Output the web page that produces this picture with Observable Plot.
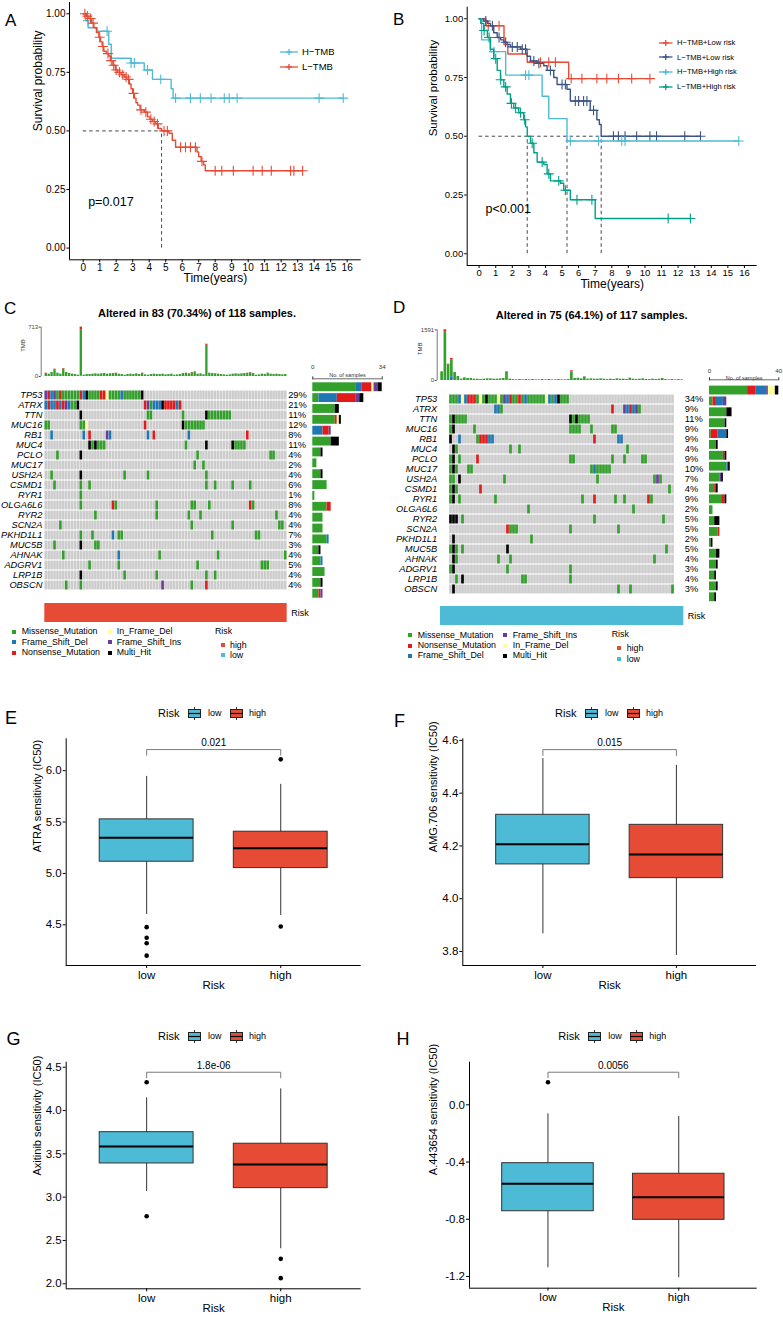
<!DOCTYPE html>
<html>
<head>
<meta charset="utf-8">
<script src="https://cdn.jsdelivr.net/npm/d3@7"></script>
<script src="https://cdn.jsdelivr.net/npm/@observablehq/plot@0.6"></script>
<style>
  html,body{margin:0;padding:0;background:#fff;}
  #fig{position:relative;width:783px;height:1317px;overflow:hidden;background:#fff;font-family:"Liberation Sans",Arial,Helvetica,sans-serif;color:#000;}
  #fig svg{overflow:visible;}
</style>
</head>
<body>
<div id="fig"></div>
<script>
// ======================= DATA =======================
const kmTicks = [0,1,2,3,4,5,6,7,8,9,10,11,12,13,14,15,16];
const survTicks = [0, 0.25, 0.5, 0.75, 1];

// ---- Panel A (KM by TMB) ----
const A_names = ["H−TMB", "L−TMB"];
const A_colors = ["#4DBBD5", "#E64B35"];
const A_H_t = [0, 0.15, 0.3, 0.85, 1.55, 1.7, 2.9, 3.7, 4.2, 5.33, 5.45, 15.76];
const A_H_s = [1.0, 0.97, 0.94, 0.925, 0.87, 0.81, 0.79, 0.76, 0.72, 0.68, 0.64, 0.64];
const A_H_cens = [0.28, 1.45, 2.9, 3.1, 3.9, 4.7, 5.6, 6.5, 7.1, 7.75, 8.55, 8.85, 9.33, 14.3, 15.76];
const A_L_t = [0, 0.2, 0.35, 0.5, 0.65, 0.8, 0.95, 1.05, 1.15, 1.25, 1.4, 1.55, 1.65, 1.8, 1.95, 2.1, 2.3, 2.5, 2.65, 2.8, 2.9, 3.0, 3.1, 3.2, 3.3, 3.45, 3.7, 3.9, 4.05, 4.2, 4.4, 4.55, 4.75, 5.2, 5.4, 5.6, 6.9, 7.0, 7.15, 7.3, 7.4, 13.3];
const A_L_s = [1.0, 0.99, 0.98, 0.96, 0.94, 0.92, 0.90, 0.88, 0.86, 0.84, 0.83, 0.82, 0.80, 0.78, 0.76, 0.75, 0.74, 0.73, 0.72, 0.70, 0.68, 0.66, 0.64, 0.62, 0.61, 0.59, 0.58, 0.56, 0.55, 0.54, 0.53, 0.51, 0.50, 0.49, 0.46, 0.43, 0.41, 0.39, 0.37, 0.355, 0.33, 0.33];
const A_L_cens = [0.1, 0.25, 0.45, 0.6, 1.0, 1.2, 1.5, 1.7, 1.85, 2.0, 2.2, 2.4, 2.6, 2.75, 3.05, 3.5, 3.8, 4.1, 4.3, 4.5, 4.9, 5.1, 5.9, 6.2, 6.5, 6.8, 7.2, 8.0, 8.4, 9.1, 10.3, 10.85, 11.4, 12.57, 12.77, 13.3];
const A_medians = [4.75];
const A_p = "p=0.017";
const A_pPos = [0.3, 0.195];

// ---- Panel B (KM by TMB + risk) ----
const B_names = ["H−TMB+Low risk", "L−TMB+Low risk", "H−TMB+High risk", "L−TMB+High risk"];
const B_colors = ["#E64B35", "#3C5488", "#4DBBD5", "#00A087"];
const B1_t = [0, 0.4, 1.5, 1.73, 2.9, 5.4, 10.3];
const B1_s = [1, 0.97, 0.89, 0.85, 0.815, 0.745, 0.745];
const B1_cens = [0.55, 1.2, 3.7, 4.2, 4.6, 5.55, 6.2, 7.1, 7.7, 8.4, 9.2, 10.3];
const B2_t = [0, 0.28, 0.5, 0.68, 0.88, 1.09, 1.3, 1.49, 1.69, 1.89, 2.49, 2.89, 3.1, 3.5, 3.9, 4.1, 4.5, 4.7, 5.3, 5.5, 6.7, 7.1, 7.25, 7.36, 13.35];
const B2_s = [1, 0.99, 0.98, 0.97, 0.94, 0.92, 0.91, 0.90, 0.89, 0.88, 0.87, 0.84, 0.82, 0.81, 0.80, 0.78, 0.75, 0.72, 0.70, 0.65, 0.61, 0.57, 0.55, 0.50, 0.50];
const B2_cens = [0.4, 0.8, 1.2, 1.6, 2.0, 2.3, 2.6, 2.8, 3.3, 3.6, 4.3, 5.0, 5.2, 5.8, 6.0, 6.3, 6.5, 6.9, 8.1, 8.4, 8.8, 9.5, 10.3, 10.7, 12.4, 13.35];
const B3_t = [0, 0.15, 0.68, 1.6, 3.8, 4.2, 5.3, 15.66];
const B3_s = [1, 0.91, 0.86, 0.76, 0.67, 0.575, 0.48, 0.48];
const B3_cens = [0.9, 2.8, 3.0, 5.5, 7.2, 8.6, 8.8, 15.66];
const B4_t = [0, 0.1, 0.28, 0.5, 0.68, 0.88, 1.09, 1.29, 1.49, 1.69, 1.89, 2.09, 2.39, 2.69, 2.8, 2.9, 3.1, 3.3, 3.5, 3.9, 4.1, 4.3, 4.9, 5.1, 5.5, 7.0, 12.74];
const B4_s = [1, 0.98, 0.95, 0.92, 0.87, 0.83, 0.78, 0.74, 0.71, 0.68, 0.64, 0.62, 0.60, 0.57, 0.54, 0.50, 0.47, 0.43, 0.39, 0.38, 0.34, 0.31, 0.30, 0.27, 0.23, 0.15, 0.15];
const B4_cens = [0.3, 0.6, 1.0, 1.3, 1.6, 1.95, 2.2, 2.5, 2.75, 3.2, 3.8, 4.2, 4.8, 5.2, 5.9, 6.8, 11.4, 12.74];
const B_medians = [2.9, 5.3, 7.36];
const B_p = "p<0.001";
const B_pPos = [0.38, 0.19];

// ---- Oncoplots (C: high risk, D: low risk) ----
const genes = ["TP53","ATRX","TTN","MUC16","RB1","MUC4","PCLO","MUC17","USH2A","CSMD1","RYR1","OLGA6L6","RYR2","SCN2A","PKHD1L1","MUC5B","AHNAK","ADGRV1","LRP1B","OBSCN"];
const mutTypes = ["M","F","N","I","S","H"];
const mutNames = ["Missense_Mutation","Frame_Shift_Del","Nonsense_Mutation","In_Frame_Del","Frame_Shift_Ins","Multi_Hit"];
const mutColors = ["#33A02C","#1F78B4","#E31A1C","#FFFF99","#6A3D9A","#000000"];
const riskLevels = ["high","low"];
const riskLevelColors = ["#E64B35","#4DBBD5"];

const C_title = "Altered in 83 (70.34%) of 118 samples.";
const C_n = 83;
const C_pct = ["29%","21%","11%","12%","8%","11%","4%","2%","4%","6%","1%","8%","4%","4%","7%","3%","4%","5%","4%","4%"];
const C_rows = [
  "0:S,1:N,2:F,3:S,4:M,5:N,6-11:M,12:N,13:F,14:H,15-18:M,19-20:N,21:I,22-25:M,26:F,27-32:M,33:H",
  "0:F,1:N,2:F,3:F,4:N,5:F,6:N,7:S,8:F,9-10:M,11:H,34:N,35:S,36:M,37-39:F,40:H,41-44:N,45:F,46:N",
  "12:H,35-36:M,47:M,55:H,56-63:M",
  "0-1:M,12-13:M,14:I,34:N,47:H,48-54:M",
  "2:F,13:F,15:N,21:S,22:F,35:F,37:N,49:F,69:N",
  "15:H,16:M,17:H,18-20:M,48:M,55:H,64:H,65-68:M",
  "4:M,12:H,52:M,77-78:M",
  "51:M,54:M",
  "2:M,12:H,27:M,35:M,55:M",
  "3:M,12:M,15:M,55:M,58:M,64:M,70:M",
  "12:M",
  "12:M,23:N,24:M,38:M,50-51:M,56:M,70:N,71:M",
  "17:M,38:M,49:M,53:M,79:M",
  "5:M,50:M,64:M,80-81:M",
  "12:M,16:M,23:F,25-26:M,57:M,72-73:M",
  "3:M,12:H,17-18:M",
  "6:M,25:F,39:M,59:M,82:M",
  "15:M,25:M,52:M,74-76:M",
  "12:H,27:M,38:M,55:M,58:M",
  "7:M,12:M,40:S,50:M,55:N"
];
const C_tmb = [48,34,58,106,48,34,116,58,43,34, 29,19,713,19,29,29,34,39,34,39, 43,34,39,43,48,34,29,19,29,34, 29,39,29,48,24,19,29,34,29,29, 34,24,29,34,19,24,29,43,48,39, 58,67,34,39,24,467,48,43,39,34, 29,24,19,24,34,39,34,39,43,48, 58,43,19,24,34,29,48,34,29,34, 29,24,29];
const C_tmbRed = [[12,40],[55,15],[0,5],[3,8],[6,8],[24,5],[33,5],[50,6],[51,8],[70,8]];
const C_tmbBlue = [[12,8]];
const C_tmbMax = 713;
const C_barMax = 34;
const C_risk = "0-82:high";
const C_legendOrder = ["M","F","N","I","S","H"];

const D_title = "Altered in 75 (64.1%) of 117 samples.";
const D_n = 75;
const D_pct = ["34%","9%","11%","9%","9%","4%","9%","10%","7%","4%","9%","2%","5%","5%","2%","5%","4%","3%","4%","3%"];
const D_rows = [
  "0-2:M,3:F,4:I,5:F,6-8:N,9:M,10:I,11:M,12:H,13-15:M,16:I,17:M,18:S,19:F,20:N,21-22:M,23:N,24:M,25:F,26-31:M,32:I,33:F,34:M,35:F,36:H,37-39:M",
  "15-16:F,17:M,54:N,58:S,59:F,60:N,61:F,62:S,63:M",
  "0:M,1:H,2-5:M,40:H,41:M,42:H,43-46:M",
  "0:M,1:H,8:M,40-43:M,47:M,54-55:M",
  "0:H,3:F,9:M,10-12:N,13-14:F,48:N,56-57:F",
  "1:H,2:M,20:M,23:M,59:M",
  "0:M,1:H,3:M,9:N,40-41:M,54:M,58:M,64-65:M",
  "0:M,1:H,2:M,6-7:M,47:M,48:F,49-53:M",
  "0-1:M,3:H,18:M,49:M,68:M,69:S,70:M",
  "0:M,1:H,2:M,10:N,73:M",
  "0:M,1:H,3:M,15:M,44:M,48:N,55:M,58:M,66:N,67:M",
  "26:M,61:M",
  "0-2:H,4:M,48:M,71:M",
  "19:N,20-22:M,40:M,56:M",
  "1:H,27:M",
  "0:M,1:H,2:M,4:M,19:H,72:M",
  "1:H,2:M,16:M,20:M,68:M",
  "0:M,1:H,19:M,40:M",
  "2:M,4:H,24-25:M,40:M",
  "1:H,56:M,60:M,74:M"
];
const D_tmb = [272,1591,513,691,251,126,42,84,63,63, 42,42,31,42,52,52,42,42,52,63, 272,42,31,21,31,21,31,21,31,21, 21,31,21,31,21,21,31,21,21,31, 304,63,73,52,115,42,52,42,42,52, 42,31,42,31,52,42,42,31,73,42, 31,42,52,31,31,42,31,42,63,31, 21,31,21,31,21];
const D_tmbRed = [[0,15],[1,70],[2,20],[3,40],[20,20],[40,35]];
const D_tmbBlue = [[3,120],[20,25]];
const D_tmbMax = 1591;
const D_barMax = 40;
const D_risk = "0-74:low";
const D_legendOrder = ["M","N","F","S","I","H"];

// ---- Boxplots (E-H) ----
const riskGroups = ["low", "high"];
const riskColors = ["#4DBBD5", "#E64B35"];
// [lower whisker, Q1, median, Q3, upper whisker]
const E_low = [4.60, 5.114, 5.348, 5.526, 5.944];
const E_high = [4.59, 5.052, 5.246, 5.406, 5.867];
const E_outLow = [4.477, 4.374, 4.321, 4.20];
const E_outHigh = [6.11, 4.484];
const E_ticks = [4.5, 5.0, 5.5, 6.0];
const F_low = [3.867, 4.130, 4.206, 4.318, 4.531];
const F_high = [3.785, 4.078, 4.168, 4.280, 4.505];
const F_outLow = [];
const F_outHigh = [];
const F_ticks = [3.8, 4.0, 4.2, 4.4, 4.6];
const G_low = [3.065, 3.389, 3.585, 3.75, 4.147];
const G_high = [2.404, 3.104, 3.378, 3.617, 4.25];
const G_outLow = [4.327, 2.78];
const G_outHigh = [2.288, 2.065];
const G_ticks = [2.0, 2.5, 3.0, 3.5, 4.0, 4.5];
const H_low = [-1.139, -0.744, -0.552, -0.408, -0.063];
const H_high = [-1.209, -0.804, -0.646, -0.482, -0.082];
const H_outLow = [0.158];
const H_outHigh = [];
const H_ticks = [-1.2, -0.8, -0.4, 0.0];
const pvals = ["0.021", "0.015", "1.8e-06", "0.0056"];
const ylabels = ["ATRA sensitivity (IC50)", "AMG.706 sensitivity (IC50)", "Axitinib sensitivity (IC50)", "A.443654 sensitivity (IC50)"];

// ======================= HELPERS =======================
const FONT = '"Liberation Sans", Arial, Helvetica, sans-serif';
const fig = document.getElementById("fig");
function place(node, left, top) {
  node.style.position = "absolute"; node.style.left = left + "px"; node.style.top = top + "px";
  fig.appendChild(node); return node;
}
function label(text, left, cy, size, o = {}) {
  const d = document.createElement("div");
  d.textContent = text;
  Object.assign(d.style, {fontSize: size + "px", lineHeight: size + "px", whiteSpace: "nowrap", fontWeight: o.bold ? "bold" : "normal"});
  if (o.anchor === "middle") { d.style.width = "400px"; d.style.textAlign = "center"; left -= 200; }
  return place(d, left, cy - size / 2);
}
function html(str, left, top) { const d = document.createElement("div"); d.innerHTML = str; d.style.lineHeight = "0"; return place(d, left, top); }
const baseStyle = (size, color = "#000") => ({fontFamily: FONT, fontSize: size + "px", color, background: "transparent", overflow: "visible"});
function stepAt(ts, ss, x) { let v = ss[0]; for (let i = 0; i < ts.length; i++) { if (ts[i] <= x) v = ss[i]; else break; } return v; }
function parseSpans(str) {
  if (!str) return [];
  return str.split(",").map(part => {
    const [rng, t] = part.split(":");
    const [a, b] = rng.split("-").map(Number);
    return {a, b: b === undefined ? a : b, t};
  });
}
function parseRuns(str) {
  const out = [];
  parseSpans(str).forEach(({a, b, t}) => { for (let i = a; i <= b; i++) out.push({i, t}); });
  return out;
}
const mutColor = Object.fromEntries(mutTypes.map((t, k) => [t, mutColors[k]]));
const mutName = Object.fromEntries(mutTypes.map((t, k) => [t, mutNames[k]]));
const riskColor = Object.fromEntries(riskLevels.map((t, k) => [t, riskLevelColors[k]]));

// ======================= KM PANELS =======================
function kmPanel(c) {
  const marks = [
    Plot.ruleY([0.5], {x1: () => 0, x2: () => d3.max(c.medians), stroke: "#333", strokeDasharray: "3.5,3", strokeWidth: 0.9}),
    Plot.ruleX(c.medians, {y1: () => 0, y2: () => 0.5, stroke: "#333", strokeDasharray: "3.5,3", strokeWidth: 0.9}),
  ];
  c.curves.forEach(cv => {
    const pts = cv.t.map((t, i) => ({t, s: cv.s[i]}));
    marks.push(Plot.line(pts, {x: "t", y: "s", curve: "step-after", stroke: cv.color, strokeWidth: 1.4}));
    marks.push(Plot.dot(cv.cens.map(x => ({t: x, s: stepAt(cv.t, cv.s, x)})), {x: "t", y: "s", symbol: "plus", r: 3.3, stroke: cv.color, strokeWidth: 1.1}));
  });
  marks.push(
    Plot.ruleX([c.xdom[0]], {stroke: "#000", strokeWidth: 1}),
    Plot.ruleY([c.ydom[0]], {stroke: "#000", strokeWidth: 1}),
    Plot.text([c.p], {x: () => c.pPos[0], y: () => c.pPos[1], text: d => d, textAnchor: "start", fontSize: 12.5}),
    Plot.text(["Time(years)"], {frameAnchor: "bottom", dy: c.xLabDy, text: d => d, fontSize: 12}),
    Plot.text(["Survival probability"], {frameAnchor: "left", dx: c.yLabDx, rotate: -90, text: d => d, fontSize: c.yLabSize})
  );
  const p = Plot.plot({
    width: c.width, height: c.height,
    marginLeft: c.mL, marginRight: c.mR, marginTop: c.mT, marginBottom: c.mB,
    x: {domain: c.xdom, ticks: kmTicks, tickFormat: d => String(d), label: null, tickSize: 3, tickPadding: 1},
    y: {domain: c.ydom, ticks: survTicks, tickFormat: d3.format(".2f"), label: null, tickSize: 2.5, tickPadding: 1.5},
    style: baseStyle(c.tickSize),
    marks
  });
  place(p, c.left, c.top);
}
function kmKey(color, w) {
  return `<svg width="${w}" height="8" style="display:block;overflow:visible"><line x1="0" y1="4" x2="${w}" y2="4" stroke="${color}" stroke-width="1.3"/><line x1="${w/2-3}" y1="4" x2="${w/2+3}" y2="4" stroke="${color}" stroke-width="1.3"/><line x1="${w/2}" y1="1" x2="${w/2}" y2="7" stroke="${color}" stroke-width="1.3"/></svg>`;
}

kmPanel({
  left: 0, top: 0, width: 390, height: 295, mL: 69, mR: 29.3, mT: 2, mB: 35.7,
  xdom: [-0.83, 16.85], ydom: [-0.05, 1.048], medians: A_medians, p: A_p, pPos: A_pPos,
  xLabDy: 22.5, yLabDx: -31, yLabSize: 12, tickSize: 10,
  curves: [
    {t: A_H_t, s: A_H_s, cens: A_H_cens, color: A_colors[0]},
    {t: A_L_t, s: A_L_s, cens: A_L_cens, color: A_colors[1]}
  ]
});
A_names.forEach((nm, k) => {
  const cy = [51.7, 66.7][k];
  html(kmKey(A_colors[k], 18), 280, cy - 4);
  label(nm, 302, cy, 9.5);
});

kmPanel({
  left: 390, top: 0, width: 393, height: 298, mL: 76.7, mR: 26.3, mT: 6.7, mB: 33,
  xdom: [-0.72, 16.77], ydom: [-0.05, 1.049], medians: B_medians, p: B_p, pPos: B_pPos,
  xLabDy: 22, yLabDx: -33.4, yLabSize: 11.5, tickSize: 9.5,
  curves: [
    {t: B1_t, s: B1_s, cens: B1_cens, color: B_colors[0]},
    {t: B2_t, s: B2_s, cens: B2_cens, color: B_colors[1]},
    {t: B3_t, s: B3_s, cens: B3_cens, color: B_colors[2]},
    {t: B4_t, s: B4_s, cens: B4_cens, color: B_colors[3]}
  ]
});
B_names.forEach((nm, k) => {
  const cy = [42.7, 57.3, 71.7, 86.7][k];
  html(kmKey(B_colors[k], 13.5), 659.3, cy - 4);
  label(nm, 677, cy, 7.6);
});

// ======================= ONCOPLOTS =======================
function oncoPanel(o) {
  const n = o.n;
  const cols = d3.range(n);
  const bg = [];
  genes.forEach(g => cols.forEach(i => bg.push({g, i})));
  const muts = [];
  o.rows.forEach((str, r) => parseRuns(str).forEach(({i, t}) => muts.push({g: genes[r], i, fill: mutColor[t]})));

  // mutation matrix
  const mat = Plot.plot({
    width: o.matW, height: o.matH, marginLeft: o.matML, marginRight: o.matMR, marginTop: 0, marginBottom: 0,
    x: {type: "band", domain: cols, padding: 0, axis: null},
    y: {type: "band", domain: genes, padding: 0, axis: null},
    color: {type: "identity"},
    style: baseStyle(9),
    marks: [
      Plot.cell(bg, {x: "i", y: "g", fill: "#CCCCCC", insetTop: 0.55, insetBottom: 0.55, insetLeft: 0.18, insetRight: 0.18}),
      Plot.cell(muts, {x: "i", y: "g", fill: "fill", insetTop: 0.55, insetBottom: 0.55, insetLeft: 0.18, insetRight: 0.18}),
      Plot.text(genes, {y: d => d, text: d => d, frameAnchor: "left", textAnchor: "end", dx: -o.geneGap, fontStyle: "italic", fontSize: 9.3}),
      Plot.text(genes, {y: d => d, text: (d, i) => o.pct[i], frameAnchor: "right", textAnchor: "start", dx: 1, fontSize: 9.3})
    ]
  });
  place(mat, o.matLeft, o.matTop);

  // TMB stacked bars
  const rects = [];
  cols.forEach(i => {
    const blue = (o.tmbBlue.find(p => p[0] === i) || [0, 0])[1];
    const red = (o.tmbRed.find(p => p[0] === i) || [0, 0])[1];
    const tot = o.tmb[i];
    const green = Math.max(0, tot - blue - red);
    let acc = 0;
    [[blue, mutColor.F], [green, mutColor.M], [red, mutColor.N]].forEach(([v, col]) => {
      if (v > 0) { rects.push({i, y1: acc, y2: acc + v, fill: col}); acc += v; }
    });
  });
  const tmbP = Plot.plot({
    width: o.tmbW, height: o.tmbH, marginLeft: o.tmbML, marginRight: o.tmbMR, marginTop: o.tmbMT, marginBottom: 2,
    x: {domain: [o.tmbX0, n], axis: null},
    y: {domain: [0, o.tmbMax], ticks: [0, o.tmbMax], tickFormat: d => String(d), tickSize: 2, tickPadding: 1, label: null},
    color: {type: "identity"},
    style: baseStyle(6, "#444"),
    marks: [
      Plot.rect(rects, {x1: "i", x2: d => d.i + 1, y1: "y1", y2: "y2", fill: "fill", insetLeft: 0.3, insetRight: 0.3}),
      Plot.ruleX([o.tmbX0], {y1: () => 0, y2: () => o.tmbMax, stroke: "#555", strokeWidth: 0.8}),
      Plot.text(["TMB"], {frameAnchor: "left", dx: o.tmbLabDx, rotate: -90, text: d => d, fontSize: 6, fill: "#333"})
    ]
  });
  place(tmbP, o.tmbLeft, o.tmbTop);

  // right side bars (No. of samples)
  const bars = [];
  o.rows.forEach((str, r) => {
    const cnt = {};
    parseRuns(str).forEach(({t}) => cnt[t] = (cnt[t] || 0) + 1);
    let acc = 0;
    o.order.forEach(t => { if (cnt[t]) { bars.push({r, x1: acc, x2: acc + cnt[t], fill: mutColor[t]}); acc += cnt[t]; } });
  });
  const barP = Plot.plot({
    width: o.barW, height: o.barH, marginLeft: o.barML, marginRight: o.barMR, marginTop: o.barMT, marginBottom: 0,
    x: {domain: [0, o.barMax], axis: "top", ticks: [0, o.barMax], tickFormat: d => String(d), tickSize: 3, tickPadding: o.barTickPad, label: null},
    y: {domain: [genes.length, -o.barInsetRows], axis: null},
    color: {type: "identity"},
    style: baseStyle(6.2, "#333"),
    marks: [
      Plot.rect(bars, {x1: "x1", x2: "x2", y1: "r", y2: d => d.r + 1, fill: "fill", insetTop: 1, insetBottom: 1}),
      Plot.ruleY([-o.barInsetRows], {x1: () => 0, x2: () => o.barMax, stroke: "#444", strokeWidth: 0.8}),
      Plot.text(["No. of samples"], {frameAnchor: "top", dy: o.nosDy, text: d => d, fontSize: 5.5, fill: "#333"})
    ]
  });
  place(barP, o.barLeft, o.barTop);

  // risk annotation (one rect per run of samples with the same risk)
  const riskSpans = parseSpans(o.risk).map(({a, b, t}) => ({a, b: b + 1, fill: riskColor[t]}));
  const riskP = Plot.plot({
    width: o.matW, height: 19, marginLeft: o.matML, marginRight: o.matMR, marginTop: 0, marginBottom: 0,
    x: {domain: [0, n], axis: null},
    y: {domain: [0, 1], axis: null},
    color: {type: "identity"},
    style: baseStyle(9),
    marks: [
      Plot.rect(riskSpans, {x1: "a", x2: "b", y1: () => 0, y2: () => 1, fill: "fill"}),
      Plot.text(["Risk"], {frameAnchor: "right", textAnchor: "start", dx: 4, text: d => d, fontSize: 9})
    ]
  });
  place(riskP, o.matLeft, o.riskTop);

  // title
  label(o.title, o.titleX, o.titleY, 11, {bold: true, anchor: "middle"});

  // legend
  o.legendOrder.forEach((t, k) => {
    const col = Math.floor(k / 3), row = k % 3;
    const cy = o.legRows[row];
    const sq = document.createElement("div");
    Object.assign(sq.style, {width: "4px", height: "4px", background: mutColor[t]});
    place(sq, o.legSqX[col], cy - 2);
    label(mutName[t], o.legTxX[col], cy, 8.8);
  });
  label("Risk", o.legRiskX, o.legRiskTitleY, 8.8);
  riskLevels.forEach((lv, k) => {
    const cy = o.legRiskRows[k];
    const sq = document.createElement("div");
    Object.assign(sq.style, {width: "4px", height: "4px", background: riskColor[lv]});
    place(sq, o.legRiskSqX, cy - 2);
    label(lv, o.legRiskTxX, cy, 8.8);
  });
}

oncoPanel({
  n: C_n, rows: C_rows, pct: C_pct, tmb: C_tmb, tmbRed: C_tmbRed, tmbBlue: C_tmbBlue, tmbMax: C_tmbMax,
  barMax: C_barMax, risk: C_risk, order: C_legendOrder, legendOrder: C_legendOrder, title: C_title,
  matLeft: 0, matTop: 381.3, matW: 310, matH: 217.4, matML: 44.3, matMR: 23.3, geneGap: 2.4,
  tmbLeft: 0, tmbTop: 320, tmbW: 290, tmbH: 58, tmbML: 40.7, tmbMR: 3.3, tmbMT: 6.7, tmbX0: -1.23, tmbLabDx: -17.7,
  barLeft: 300, barTop: 355, barW: 90, barH: 243.7, barML: 12.3, barMR: 8.3, barMT: 23.3, barInsetRows: 0.276, barTickPad: 7, nosDy: -5.3,
  riskTop: 602.7,
  titleX: 197, titleY: 313.5,
  legRows: [631.7, 642.3, 652.7], legSqX: [11.7, 107.7], legTxX: [21.7, 116.7],
  legRiskX: 215, legRiskTitleY: 631.7, legRiskRows: [645, 655], legRiskSqX: 220.7, legRiskTxX: 230
});

oncoPanel({
  n: D_n, rows: D_rows, pct: D_pct, tmb: D_tmb, tmbRed: D_tmbRed, tmbBlue: D_tmbBlue, tmbMax: D_tmbMax,
  barMax: D_barMax, risk: D_risk, order: D_legendOrder, legendOrder: D_legendOrder, title: D_title,
  matLeft: 390, matTop: 384.6, matW: 310, matH: 217.6, matML: 50, matMR: 16.7, geneGap: 3.3,
  tmbLeft: 395, tmbTop: 320, tmbW: 290, tmbH: 62, tmbML: 41.7, tmbMR: 1.7, tmbMT: 9.3, tmbX0: -1.02, tmbLabDx: -16.7,
  barLeft: 695, barTop: 355, barW: 88, barH: 247.2, barML: 14, barMR: 4.7, barMT: 24.3, barInsetRows: 0.487, barTickPad: 3.6, nosDy: -3.6,
  riskTop: 606,
  titleX: 591.7, titleY: 315,
  legRows: [635, 645.7, 655.7], legSqX: [407.7, 503.3], legTxX: [417.7, 512.7],
  legRiskX: 611.7, legRiskTitleY: 634.3, legRiskRows: [648.3, 659], legRiskSqX: 616.7, legRiskTxX: 626.7
});

// ======================= BOXPLOTS =======================
function boxPanel(c) {
  const boxes = riskGroups.map((g, k) => {
    const s = c.stats[k];
    return {x: k + 1, lo: s[0], q1: s[1], med: s[2], q3: s[3], hi: s[4], fill: riskColors[k]};
  });
  const outs = [];
  c.outliers.forEach((arr, k) => arr.forEach(v => outs.push({x: k + 1, v})));
  const br = [{x: 1, v: c.bracket[0]}, {x: 1, v: c.bracket[1]}, {x: 2, v: c.bracket[1]}, {x: 2, v: c.bracket[0]}];
  const half = 0.35;
  const p = Plot.plot({
    width: c.width, height: c.height, marginLeft: c.mL, marginRight: c.mR, marginTop: c.mT, marginBottom: c.mB,
    x: {domain: [0.4, 2.6], ticks: [1, 2], tickFormat: d => riskGroups[d - 1], label: null, tickSize: 3, tickPadding: 2},
    y: {domain: c.ydom, ticks: c.yticks, tickFormat: d => d.toFixed(1), label: null, tickSize: 3, tickPadding: 1.5},
    color: {type: "identity"},
    style: baseStyle(11.5),
    marks: [
      Plot.ruleX(boxes, {x: "x", y1: "lo", y2: "hi", stroke: "#333", strokeWidth: 1}),
      Plot.rect(boxes, {x1: d => d.x - half, x2: d => d.x + half, y1: "q1", y2: "q3", fill: "fill", stroke: "#333", strokeWidth: 1}),
      Plot.ruleY(boxes, {y: "med", x1: d => d.x - half, x2: d => d.x + half, stroke: "#000", strokeWidth: 2}),
      Plot.dot(outs, {x: "x", y: "v", r: 2.3, fill: "#000"}),
      Plot.line(br, {x: "x", y: "v", stroke: "#7a7a7a", strokeWidth: 1}),
      Plot.text([c.p], {x: () => 1.5, y: () => c.bracket[1], dy: -6.5, text: d => d, fontSize: 10}),
      Plot.ruleX([0.4], {stroke: "#000", strokeWidth: 1}),
      Plot.ruleY([c.ydom[0]], {stroke: "#000", strokeWidth: 1}),
      Plot.text(["Risk"], {frameAnchor: "bottom", dy: 23, text: d => d, fontSize: 11.5}),
      Plot.text([c.ylab], {frameAnchor: "left", dx: c.yLabDx, rotate: -90, text: d => d, fontSize: 11})
    ]
  });
  place(p, c.left, c.top);
}
function boxKey(color) {
  return `<svg width="13" height="13" style="display:block;overflow:visible"><line x1="6.5" y1="0" x2="6.5" y2="13" stroke="#333" stroke-width="1"/><rect x="0.5" y="2.5" width="12" height="8" fill="${color}" stroke="#222" stroke-width="1"/><line x1="0.5" y1="6.5" x2="12.5" y2="6.5" stroke="#000" stroke-width="1.2"/></svg>`;
}
function boxLegend(x0, cy) {
  label("Risk", x0, cy, 11);
  html(boxKey(riskColors[0]), x0 + 30, cy - 6.5);
  label(riskGroups[0], x0 + 50, cy, 9);
  html(boxKey(riskColors[1]), x0 + 72, cy - 6.5);
  label(riskGroups[1], x0 + 91, cy, 9);
}

boxPanel({left: 0, top: 690, width: 390, height: 310, mL: 65.7, mR: 29.3, mT: 48.3, mB: 35,
  ydom: [4.104, 6.31], yticks: E_ticks, stats: [E_low, E_high], outliers: [E_outLow, E_outHigh],
  bracket: [6.15, 6.205], p: pvals[0], ylab: ylabels[0], yLabDx: -29});
boxPanel({left: 390, top: 690, width: 393, height: 310, mL: 72.3, mR: 27, mT: 48.3, mB: 35,
  ydom: [3.747, 4.606], yticks: F_ticks, stats: [F_low, F_high], outliers: [F_outLow, F_outHigh],
  bracket: [4.543, 4.565], p: pvals[1], ylab: ylabels[1], yLabDx: -29.6});
boxPanel({left: 0, top: 1000, width: 390, height: 317, mL: 65.7, mR: 29.3, mT: 61.7, mB: 28.7,
  ydom: [1.942, 4.558], yticks: G_ticks, stats: [G_low, G_high], outliers: [G_outLow, G_outHigh],
  bracket: [4.377, 4.442], p: pvals[2], ylab: ylabels[2], yLabDx: -29});
boxPanel({left: 390, top: 1000, width: 393, height: 317, mL: 79, mR: 26.3, mT: 61.7, mB: 29.3,
  ydom: [-1.282, 0.298], yticks: H_ticks, stats: [H_low, H_high], outliers: [H_outLow, H_outHigh],
  bracket: [0.189, 0.228], p: pvals[3], ylab: ylabels[3], yLabDx: -35.7});

boxLegend(158, 713.3);
boxLegend(555, 713.3);
boxLegend(158, 1036.7);
boxLegend(558.3, 1036.7);

// ======================= PANEL LETTERS =======================
[["A", 5, 20.8, 17], ["B", 393, 19.2, 17], ["C", 4, 308.8, 17], ["D", 393, 307.5, 17],
 ["E", 5, 718.3, 18], ["F", 394, 720.8, 18], ["G", 6.5, 1039, 18], ["H", 396.5, 1039, 18]]
  .forEach(([t, x, cy, s]) => label(t, x, cy, s));
</script>
</body>
</html>
